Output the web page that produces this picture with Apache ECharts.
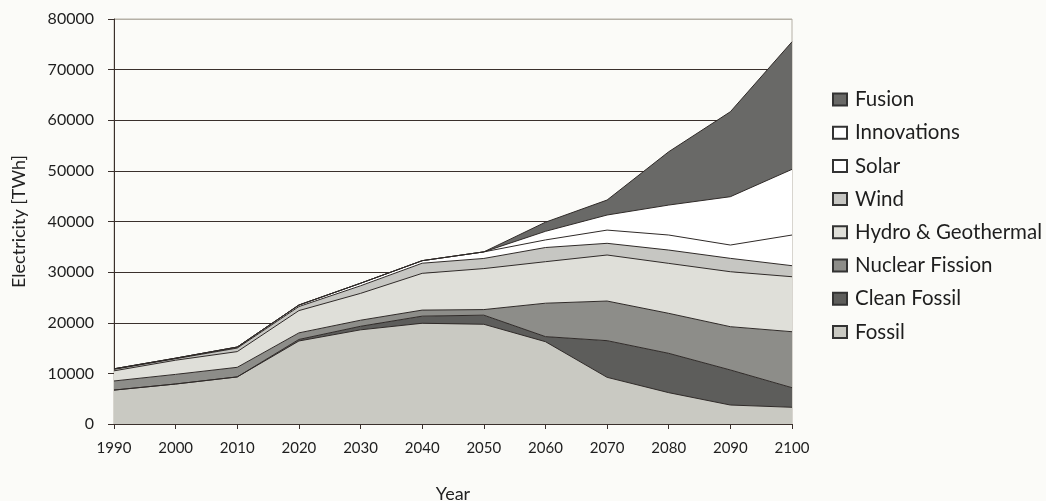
<!DOCTYPE html>
<html>
<head>
<meta charset="utf-8">
<title>Electricity by source</title>
<script src="https://cdn.jsdelivr.net/npm/echarts@6/dist/echarts.min.js"></script>
<style>
    html, body { margin: 0; padding: 0; background: #fbfbf8; }
    #chart { width: 1046px; height: 501px; }
</style>
</head>
<body>
<div id="chart"></div>
<script>
// 年份（横轴）
const years = ['1990', '2000', '2010', '2020', '2030', '2040', '2050', '2060', '2070', '2080', '2090', '2100']

// 各能源发电量 TWh（非累计，按堆叠顺序自下而上）
const fossil      = [6700, 7900, 9300, 16400, 18600, 19900, 19700, 16260, 9220, 6190, 3750, 3300]
const cleanFossil = [0, 0, 0, 300, 700, 1400, 1800, 1000, 7240, 7770, 6920, 3870]
const nuclear     = [1800, 1900, 1900, 1300, 1200, 1200, 1100, 6600, 7830, 7900, 8550, 11060]
const hydro       = [2000, 2800, 3100, 4400, 5300, 7260, 8100, 8200, 9090, 9870, 10860, 10860]
const wind        = [300, 300, 700, 800, 1500, 2000, 2000, 2800, 2310, 2630, 2640, 2180]
const solar       = [100, 100, 200, 300, 500, 500, 1300, 1500, 2610, 2970, 2630, 6060]
const innovations = [0, 0, 0, 0, 0, 0, 0, 1700, 2980, 5920, 9550, 12970]
const fusion      = [0, 0, 0, 0, 0, 0, 0, 1800, 2960, 10530, 16780, 25200]

// 纵轴刻度
const yTicks = [0, 10000, 20000, 30000, 40000, 50000, 60000, 70000, 80000]

// 图例顺序（自上而下）
const legendOrder = ['Fusion', 'Innovations', 'Solar', 'Wind', 'Hydro & Geothermal', 'Nuclear Fission', 'Clean Fossil', 'Fossil']

const FONT = 'Lato, "DejaVu Sans", sans-serif'
const LINE = '#2f2a28'

const layers = [
    { name: 'Fossil', data: fossil, color: '#c9c9c2' },
    { name: 'Clean Fossil', data: cleanFossil, color: '#5d5d5b' },
    { name: 'Nuclear Fission', data: nuclear, color: '#8d8d89' },
    { name: 'Hydro & Geothermal', data: hydro, color: '#dfdfd9' },
    { name: 'Wind', data: wind, color: '#c6c6c2' },
    { name: 'Solar', data: solar, color: '#ffffff' },
    { name: 'Innovations', data: innovations, color: '#ffffff' },
    { name: 'Fusion', data: fusion, color: '#696967' }
]

const buildSeries = () => layers.map(l => ({
    name: l.name,
    type: 'line',
    stack: 'total',
    data: l.data,
    showSymbol: false,
    symbol: 'none',
    lineStyle: { color: LINE, width: 1 },
    areaStyle: { color: l.color, opacity: 1 },
    itemStyle: { color: l.color, borderColor: '#333', borderWidth: 1 },
    emphasis: { disabled: true }
}))

// 顶部网格线颜色较浅，其余为深色
const splitColors = yTicks.map((t, i) => (i === yTicks.length - 1 ? '#b5b0a6' : '#3a302c'))

const option = {
    backgroundColor: '#fbfbf8',
    animation: false,
    textStyle: { fontFamily: FONT },
    grid: {
        left: 114,
        right: 254,
        top: 19,
        bottom: 77,
        outerBoundsMode: 'none',
        show: true,
        borderColor: '#b5b0a6',
        borderWidth: 1,
        backgroundColor: 'transparent'
    },
    legend: {
        data: legendOrder,
        orient: 'vertical',
        left: 827,
        top: 84,
        itemWidth: 14,
        itemHeight: 12,
        itemGap: 12.2,
        icon: 'rect',
        textStyle: { fontFamily: FONT, fontSize: 20.5, color: '#1e1e1e', padding: [0, 0, 0, 3] }
    },
    xAxis: {
        type: 'category',
        data: years,
        boundaryGap: false,
        name: 'Year',
        nameLocation: 'middle',
        nameGap: 61,
        nameTextStyle: { fontFamily: FONT, fontSize: 18, color: '#222' },
        axisLine: { lineStyle: { color: '#3a302c', width: 1 } },
        axisTick: { show: true, length: 5, alignWithLabel: true, lineStyle: { color: '#3a302c' } },
        axisLabel: { fontFamily: FONT, fontSize: 15, color: '#1e1e1e', margin: 17 },
        splitLine: { show: false }
    },
    yAxis: {
        type: 'value',
        min: 0,
        max: 80000,
        interval: 10000,
        name: 'Electricity [TWh]',
        nameLocation: 'middle',
        nameGap: 86,
        nameTextStyle: { fontFamily: FONT, fontSize: 18, color: '#222' },
        axisLine: { show: true, lineStyle: { color: '#3a302c', width: 1 } },
        axisTick: { show: true, length: 6, lineStyle: { color: '#3a302c' } },
        axisLabel: { fontFamily: FONT, fontSize: 16, color: '#1e1e1e', margin: 20, formatter: v => String(v) },
        splitLine: { show: true, lineStyle: { color: splitColors, width: 1 } }
    },
    series: buildSeries()
}

// 初始化图表
const initChart = () => {
    const container = document.getElementById('chart')
    const chart = echarts.init(container, null, { renderer: 'canvas' })
    chart.setOption(option)
    window.addEventListener('resize', () => chart.resize())
    return chart
}

initChart()
</script>
</body>
</html>
